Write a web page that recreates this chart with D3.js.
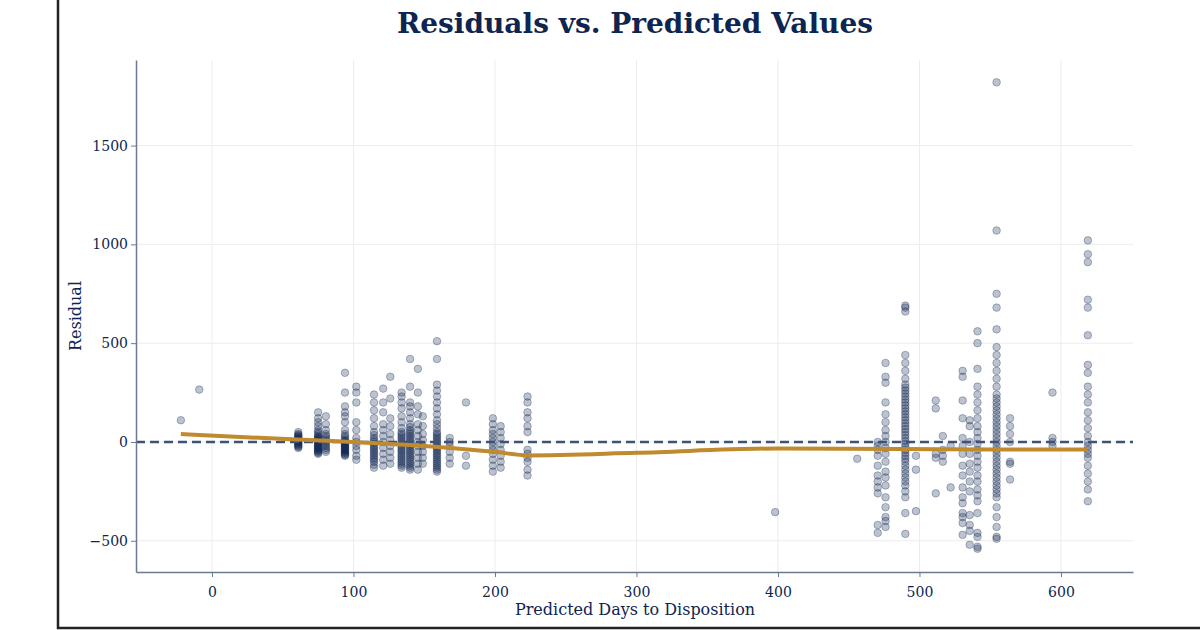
<!DOCTYPE html><html><head><meta charset="utf-8">
<script src="https://cdn.jsdelivr.net/npm/d3@7"></script>
<style>body{margin:0;background:#fff}text{font-family:"DejaVu Serif","Liberation Serif",serif}</style></head><body>
<svg id="c" width="1200" height="630"></svg>
<script>
const columns=[
[-22,[110]],[-9,[265]],
[61,[-30,-25,-20,-15,-10,-5,0,5,10,15,20,25,30,35,40,50]],
[75,[-60,-55,-50,-45,-40,-35,-30,-25,-20,-15,-10,-5,0,5,10,15,20,25,30,40,50,60,80,100,120,150]],
[80.5,[-50,-40,-30,-20,-10,0,10,20,30,40,60,90,130]],
[94,[-70,-65,-60,-55,-50,-45,-40,-35,-30,-25,-20,-15,-10,-5,0,5,10,20,30,40,60,100,130,150,180,250,350]],
[102,[-90,-70,-40,-20,0,20,60,100,200,250,280]],
[114.5,[-130,-115,-100,-90,-80,-70,-60,-50,-40,-30,-20,-10,0,10,20,35,50,80,120,160,200,240]],
[121,[-120,-90,-60,-30,0,30,60,90,150,200,270]],
[126,[-110,-80,-50,-20,10,40,80,120,220,330]],
[134,[-130,-120,-110,-100,-90,-80,-70,-60,-50,-40,-30,-20,-10,0,10,20,30,40,50,70,100,130,170,200,230,250]],
[140,[-140,-130,-120,-110,-100,-90,-80,-70,-60,-50,-40,-30,-20,-10,0,10,20,30,40,50,60,75,90,120,150,180,200,280,420]],
[145.5,[-140,-110,-80,-50,-20,0,30,60,90,140,180,250,370]],
[149,[-110,-80,-50,-20,10,40,80,130]],
[159,[-150,-140,-130,-120,-110,-100,-90,-80,-70,-60,-50,-40,-30,-20,-10,0,10,20,30,40,50,70,90,110,140,170,200,230,260,290,420,510]],
[168,[-110,-80,-50,-20,0,20]],
[179.5,[-120,-70,200]],
[198.5,[-150,-120,-90,-60,-40,-20,0,20,40,60,90,120]],
[204,[-130,-100,-70,-40,-10,20,50,80]],
[223,[-170,-140,-100,-80,-60,-40,50,80,120,150,200,230]],
[398,[-355]],[456,[-85]],
[470.5,[-460,-420,-260,-230,-200,-170,-120,-70,-40,-20,0]],
[476,[-430,-400,-380,-330,-280,-220,-180,-150,-100,-60,-30,0,30,60,100,140,200,300,330,400]],
[490,[-465,-360,-280,-250,-220,-200,-180,-160,-140,-120,-100,-85,-70,-55,-40,-25,-10,5,20,35,50,65,80,95,110,125,140,155,170,185,200,215,230,245,260,275,290,320,360,400,440,660,680,690]],
[497.5,[-350,-140,-70]],
[511.5,[-260,-80,-60,170,210]],
[516.5,[-100,-70,-40,30]],
[522,[-230,-20]],
[530.5,[-470,-410,-380,-360,-310,-280,-230,-170,-120,-60,-20,20,120,210,330,360]],
[535.5,[-520,-450,-420,-370,-250,-200,-150,-110,-60,0,80,110]],
[541,[-540,-530,-480,-460,-360,-300,-270,-240,-200,-170,-130,-100,-70,-40,-10,20,50,80,120,160,200,240,280,370,500,560]],
[554.5,[-490,-480,-430,-380,-330,-280,-260,-240,-220,-200,-180,-160,-140,-120,-100,-80,-60,-40,-20,0,20,40,60,80,100,120,140,160,180,200,220,240,280,320,360,400,440,480,570,680,750,1070,1820]],
[564,[-190,-110,-100,0,40,80,120]],
[594,[-20,0,20,250]],
[619,[-300,-240,-200,-160,-120,-80,-60,-40,-20,0,30,70,110,150,200,240,280,350,390,540,680,720,910,950,1020]]
];
const trendX=[-22,60,100,140,160,200,223,300,400,490,555,619];
const trendY=[40,12,0,-15,-25,-50,-68,-55,-33,-35,-38,-38];
const xTicks=[0,100,200,300,400,500,600];
const yTicks=[-500,0,500,1000,1500];
const navy="#0d2550";
const svg=d3.select("#c");
svg.append("path").attr("d","M58,0V628H1200").attr("fill","none").attr("stroke","#222").attr("stroke-width",2.5);
const x=d3.scaleLinear().domain([-53.7,650.9]).range([136,1133]);
const y=d3.scaleLinear().domain([-658,1933]).range([572,60]);
const g=svg.append("g");
g.selectAll(".gx").data(xTicks).join("line").attr("x1",d=>x(d)).attr("x2",d=>x(d)).attr("y1",60).attr("y2",572).attr("stroke","#ececec");
g.selectAll(".gy").data(yTicks).join("line").attr("x1",136).attr("x2",1133).attr("y1",d=>y(d)).attr("y2",d=>y(d)).attr("stroke","#ececec");
const pts=columns.flatMap(([px,rs])=>rs.map(r=>[px,r]));
g.selectAll("circle").data(pts).join("circle").attr("cx",d=>x(d[0])).attr("cy",d=>y(d[1])).attr("r",3.8)
 .attr("fill",navy).attr("fill-opacity",0.28).attr("stroke",navy).attr("stroke-opacity",0.3);
g.append("line").attr("x1",136).attr("x2",1133).attr("y1",y(0)).attr("y2",y(0)).attr("stroke","#3d5275").attr("stroke-width",2.5).attr("stroke-dasharray","9,5");
g.append("path").datum(trendX.map((v,i)=>[v,trendY[i]])).attr("d",d3.line().x(d=>x(d[0])).y(d=>y(d[1])).curve(d3.curveMonotoneX))
 .attr("fill","none").attr("stroke","#c08a2e").attr("stroke-width",4);
const ax=svg.append("g").attr("transform","translate(0,572)").call(d3.axisBottom(x).tickValues(xTicks).tickSize(5).tickSizeOuter(0));
const ay=svg.append("g").attr("transform","translate(136,0)").call(d3.axisLeft(y).tickValues(yTicks).tickSize(5).tickSizeOuter(0).tickFormat(d=>d<0?"−"+Math.abs(d):d));
[ax,ay].forEach(a=>{a.select(".domain").attr("stroke","#6a7a95").attr("stroke-width",1.5);a.selectAll(".tick line").attr("stroke","#6a7a95");a.selectAll("text").attr("fill",navy).attr("font-size",14).attr("font-family","DejaVu Serif, serif");});
ax.selectAll("text").attr("dy","1.2em");
svg.append("text").attr("x",635).attr("y",33).attr("text-anchor","middle").attr("font-size",28).attr("font-weight","bold").attr("fill",navy).text("Residuals vs. Predicted Values");
svg.append("text").attr("x",635).attr("y",615).attr("text-anchor","middle").attr("font-size",16).attr("fill",navy).text("Predicted Days to Disposition");
svg.append("text").attr("transform","translate(81,316) rotate(-90)").attr("text-anchor","middle").attr("font-size",16).attr("fill",navy).text("Residual");
</script></body></html>
